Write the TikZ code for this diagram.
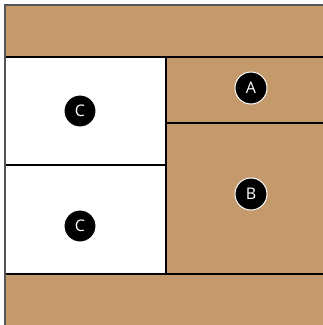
\documentclass[tikz,border=0pt]{standalone}
\usepackage{fontspec}
\setsansfont{Open Sans}
\definecolor{wood}{HTML}{C4996C}
\definecolor{frame}{HTML}{555555}

\begin{document}
\begin{tikzpicture}[x=1pt,y=-1pt,
  panel/.style={fill=wood,draw=black,line width=1.2pt},
  drawer/.style={fill=white,draw=black,line width=1.2pt},
  tag/.style={circle,fill=black,draw=white,line width=1pt,minimum size=32pt,inner sep=0pt,
    text=white,font=\sffamily\fontsize{16}{16}\selectfont}]
\useasboundingbox (0,0) rectangle (323,325);
% boards
\fill[wood] (5,5) rectangle (330,330);
\draw[panel] (5,57) rectangle (330,57);
\draw[drawer] (5,57) rectangle (166,165);
\draw[drawer] (5,165) rectangle (166,274);
\draw[panel] (166,57) rectangle (330,123);
\draw[panel] (166,123) rectangle (330,274);
\draw[frame,line width=1.5pt] (5,330) -- (5,5) -- (330,5);
% labels
\node[tag] (a) at (251,88) {A};
\node[tag] (b) at (251,194) {B};
\node[tag] (c1) at (80,111) {C};
\node[tag] (c2) at (80,226) {C};
\end{tikzpicture}
\end{document}
